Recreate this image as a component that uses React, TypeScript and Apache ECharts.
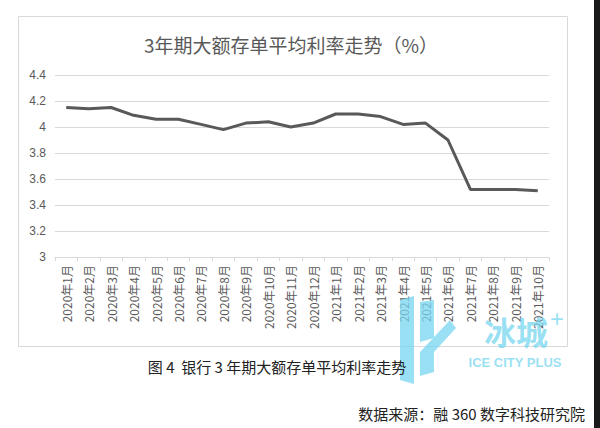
import React, { useEffect, useRef } from "react";
import * as echarts from "echarts";

const categories = [
  "2020年1月", "2020年2月", "2020年3月", "2020年4月", "2020年5月", "2020年6月",
  "2020年7月", "2020年8月", "2020年9月", "2020年10月", "2020年11月", "2020年12月",
  "2021年1月", "2021年2月", "2021年3月", "2021年4月", "2021年5月", "2021年6月",
  "2021年7月", "2021年8月", "2021年9月", "2021年10月",
];
const rates = [
  4.15, 4.14, 4.15, 4.09, 4.06, 4.06, 4.02, 3.98, 4.03, 4.04, 4.0, 4.03,
  4.1, 4.1, 4.08, 4.02, 4.03, 3.9, 3.52, 3.52, 3.52, 3.51,
];
const titleText = "3年期大额存单平均利率走势（%）";
const captionText = "图 4  银行 3 年期大额存单平均利率走势";
const sourceText = "数据来源：融 360 数字科技研究院";

export default function App() {
  const ref = useRef<HTMLDivElement>(null);
  useEffect(() => {
    if (!ref.current) return;
    const chart = echarts.init(ref.current, null, { renderer: "svg" });
    const cyan = "rgba(120,214,240,0.75)";
    chart.setOption({
      animation: false,
      backgroundColor: "#ffffff",
      title: {
        text: titleText,
        left: 286,
        top: 30,
        textAlign: "center",
        textStyle: {
          fontFamily: "Noto Sans CJK SC",
          fontSize: 19,
          fontWeight: "normal",
          color: "#595959",
        },
      },
      grid: { left: 55, right: 51, top: 75, bottom: 171 },
      xAxis: {
        type: "category",
        data: categories,
        boundaryGap: true,
        axisLine: { lineStyle: { color: "#d9d9d9", width: 1 } },
        axisTick: { show: true, length: 4, lineStyle: { color: "#d9d9d9" } },
        axisLabel: {
          rotate: 90,
          interval: 0,
          margin: 8,
          fontFamily: "Noto Sans CJK SC",
          fontSize: 12,
          color: "#595959",
        },
      },
      yAxis: {
        type: "value",
        min: 3,
        max: 4.4,
        interval: 0.2,
        axisLine: { show: false },
        axisTick: { show: false },
        splitLine: { lineStyle: { color: "#d9d9d9", width: 1 } },
        axisLabel: {
          margin: 9,
          fontFamily: "Liberation Sans",
          fontSize: 12,
          color: "#595959",
        },
      },
      series: [
        {
          type: "line",
          data: rates,
          symbol: "none",
          lineStyle: { color: "#595959", width: 3 },
          z: 3,
        },
      ],
      graphic: [
        {
          type: "rect",
          shape: { x: 18.5, y: 16.5, width: 549, height: 330 },
          style: { fill: "none", stroke: "#d9d9d9", lineWidth: 1 },
          z: -1,
        },
        {
          type: "rect",
          shape: { x: 594, y: 0, width: 6, height: 428 },
          style: { fill: "#1a1a1a" },
        },
        {
          type: "text",
          x: 277,
          y: 366,
          style: {
            text: captionText,
            fontFamily: "Noto Sans CJK SC",
            fontSize: 15,
            fill: "#222222",
            align: "center",
            verticalAlign: "middle",
          },
          z: 10,
        },
        {
          type: "text",
          x: 585,
          y: 413,
          style: {
            text: sourceText,
            fontFamily: "Noto Sans CJK SC",
            fontSize: 15,
            fill: "#222222",
            align: "right",
            verticalAlign: "middle",
          },
          z: 10,
        },
        {
          type: "polygon",
          shape: { points: [[400, 300], [414, 296], [414, 384], [400, 380]] },
          style: { fill: cyan },
          z: 5,
        },
        {
          type: "polygon",
          shape: { points: [[420, 302], [434, 300], [434, 338], [420, 342]] },
          style: { fill: cyan },
          z: 5,
        },
        {
          type: "polygon",
          shape: { points: [[420, 352], [450, 320], [456, 328], [434, 352], [434, 372], [420, 376]] },
          style: { fill: cyan },
          z: 5,
        },
        {
          type: "text",
          x: 516,
          y: 331,
          style: {
            text: "冰城",
            fontFamily: "Noto Sans CJK SC",
            fontSize: 32,
            fontWeight: "bold",
            fill: cyan,
            align: "center",
            verticalAlign: "middle",
          },
          z: 5,
        },
        {
          type: "text",
          x: 557,
          y: 318,
          style: {
            text: "+",
            fontFamily: "Liberation Sans",
            fontSize: 24,
            fill: cyan,
            align: "center",
            verticalAlign: "middle",
          },
          z: 5,
        },
        {
          type: "text",
          x: 515,
          y: 362,
          style: {
            text: "ICE CITY PLUS",
            fontFamily: "Liberation Sans",
            fontSize: 13,
            fontWeight: "bold",
            fill: cyan,
            align: "center",
            verticalAlign: "middle",
          },
          z: 5,
        },
      ],
    });
    return () => chart.dispose();
  }, []);
  return (
    <div
      ref={ref}
      style={{ position: "fixed", left: 0, top: 0, width: 600, height: 428 }}
    />
  );
}
